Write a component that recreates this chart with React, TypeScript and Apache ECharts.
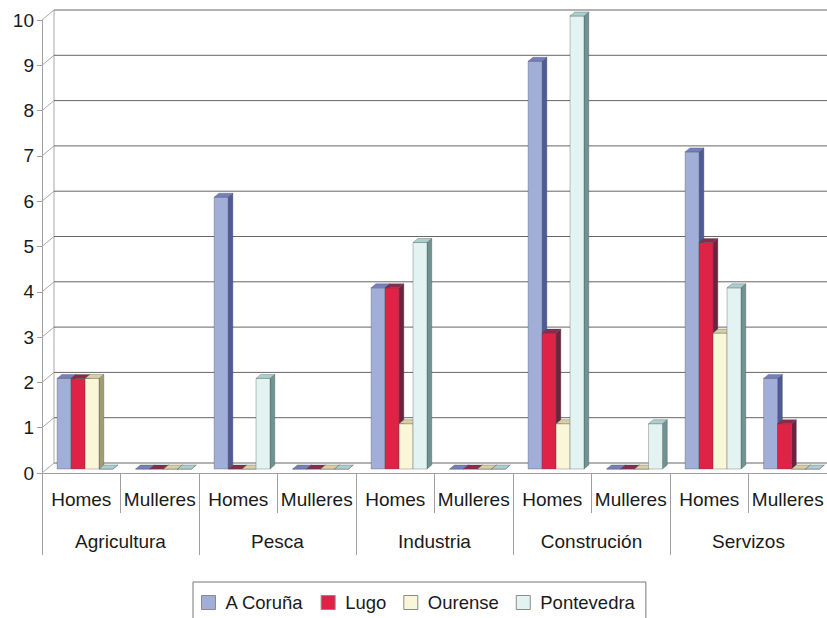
import React, { useEffect, useRef } from 'react';
import * as echarts from 'echarts';

const sectors = ['Agricultura', 'Pesca', 'Industria', 'Construción', 'Servizos'];
const genders = ['Homes', 'Mulleres'];
const subCategories = sectors.flatMap(() => genders);
const yTicks = [0, 1, 2, 3, 4, 5, 6, 7, 8, 9, 10];

const seriesNames = ['A Coruña', 'Lugo', 'Ourense', 'Pontevedra'];
const aCoruna = [2, 0, 6, 0, 4, 0, 9, 0, 7, 2];
const lugo = [2, 0, 0, 0, 4, 0, 3, 0, 5, 1];
const ourense = [2, 0, 0, 0, 1, 0, 1, 0, 3, 0];
const pontevedra = [0, 0, 2, 0, 5, 0, 10, 1, 4, 0];
const seriesValues = [aCoruna, lugo, ourense, pontevedra];

const frontColors = ['#a0aed8', '#df2347', '#faf6d8', '#e2f3f2'];
const sideColors = ['#4f5a98', '#6b2340', '#a39b72', '#6e9392'];
const topColors = ['#7280c0', '#8a2a4e', '#d8cfa2', '#aacfce'];

const DX = 12;
const DY = 10;
const FONT = "'Liberation Sans', Arial, sans-serif";

export default function App() {
  const ref = useRef<HTMLDivElement>(null);

  useEffect(() => {
    if (!ref.current) return;
    const chart = echarts.init(ref.current, null, { renderer: 'svg' });

    const frameRender = (params: any, api: any) => {
      const cs = params.coordSys;
      const v = api.value(1);
      const y = api.coord([0, v])[1];
      const x0 = cs.x;
      const x1 = cs.x + cs.width;
      const children: any[] = [
        {
          type: 'line',
          shape: { x1: x0, y1: y, x2: x0 + DX, y2: y - DY },
          style: { stroke: '#a8a8a8', lineWidth: 1 },
        },
        {
          type: 'line',
          shape: { x1: x0 + DX, y1: y - DY, x2: x1, y2: y - DY },
          style: { stroke: '#666666', lineWidth: 1 },
        },
      ];
      if (v === 0) {
        const yTop = api.coord([0, yTicks[yTicks.length - 1]])[1];
        children.push({
          type: 'line',
          shape: { x1: x0 + DX, y1: y - DY, x2: x0 + DX, y2: yTop - DY },
          style: { stroke: '#a8a8a8', lineWidth: 1 },
        });
      }
      return { type: 'group', children };
    };

    const makeBarRender = (s: number) => (params: any, api: any) => {
      const c = api.value(0);
      const v = api.value(1);
      const base = api.coord([c, 0]);
      const topP = api.coord([c, v]);
      const band = api.size([1, 0])[0];
      const bw = band * 0.178;
      const fx = DX * 0.4;
      const fy = DY * 0.4;
      const sx = DX * 0.4;
      const sy = DY * 0.4;
      const left = base[0] + fx - 2 * bw + s * bw - 1;
      const yb = base[1] - fy;
      const yt = topP[1] - fy;
      const stroke = 'rgba(70,70,70,0.55)';
      return {
        type: 'group',
        children: [
          {
            type: 'polygon',
            shape: {
              points: [
                [left + bw, yt],
                [left + bw + sx, yt - sy],
                [left + bw + sx, yb - sy],
                [left + bw, yb],
              ],
            },
            style: { fill: sideColors[s], stroke, lineWidth: 0.6 },
          },
          {
            type: 'rect',
            shape: { x: left, y: yt, width: bw, height: yb - yt },
            style: { fill: frontColors[s], stroke, lineWidth: 0.6 },
          },
          {
            type: 'polygon',
            shape: {
              points: [
                [left, yt],
                [left + bw, yt],
                [left + bw + sx, yt - sy],
                [left + sx, yt - sy],
              ],
            },
            style: { fill: topColors[s], stroke, lineWidth: 0.6 },
          },
        ],
      };
    };

    const option: any = {
      animation: false,
      backgroundColor: '#ffffff',
      textStyle: { fontFamily: FONT },
      grid: { left: 42, top: 20, width: 785, height: 453 },
      legend: {
        data: seriesNames.map((n) => ({ name: n, icon: 'rect' })),
        left: 193,
        top: 582,
        orient: 'horizontal',
        itemWidth: 14,
        itemHeight: 14,
        itemGap: 17,
        padding: [11, 11, 12, 8],
        borderColor: '#777777',
        borderWidth: 1,
        borderRadius: 0,
        itemStyle: { borderColor: '#8a8a8a', borderWidth: 1 },
        textStyle: {
          fontSize: 18.5,
          color: '#1a1a1a',
          fontFamily: FONT,
          padding: [0, 0, 0, 5],
        },
        selectedMode: false,
      },
      xAxis: [
        {
          type: 'category',
          data: subCategories,
          position: 'bottom',
          boundaryGap: true,
          axisLine: { show: true, lineStyle: { color: '#a0a0a0', width: 1 } },
          axisTick: { show: true, interval: 0, length: 40, lineStyle: { color: '#a0a0a0' } },
          axisLabel: { interval: 0, fontSize: 19, color: '#1a1a1a', margin: 17, fontFamily: FONT },
          splitLine: { show: false },
        },
        {
          type: 'category',
          data: sectors,
          position: 'bottom',
          boundaryGap: true,
          axisLine: { show: false },
          axisTick: { show: true, interval: 0, length: 82, lineStyle: { color: '#a0a0a0' } },
          axisLabel: { interval: 0, fontSize: 19, color: '#1a1a1a', margin: 59, fontFamily: FONT },
          splitLine: { show: false },
        },
      ],
      yAxis: {
        type: 'value',
        min: 0,
        max: 10,
        interval: 1,
        axisLine: { show: true, lineStyle: { color: '#a0a0a0', width: 1 } },
        axisTick: { show: true, length: 5, lineStyle: { color: '#a0a0a0' } },
        axisLabel: { fontSize: 19, color: '#1a1a1a', margin: 8, fontFamily: FONT },
        splitLine: { show: false },
      },
      series: [
        {
          type: 'custom',
          name: 'frame',
          silent: true,
          clip: false,
          z: 1,
          xAxisIndex: 0,
          yAxisIndex: 0,
          renderItem: frameRender,
          data: yTicks.map((v) => [0, v]),
          encode: { x: 0, y: 1 },
        },
        ...seriesNames.map((name, s) => ({
          type: 'custom',
          name,
          clip: false,
          z: 2,
          xAxisIndex: 0,
          yAxisIndex: 0,
          itemStyle: { color: frontColors[s] },
          renderItem: makeBarRender(s),
          data: seriesValues[s].map((v, i) => [i, v]),
          encode: { x: 0, y: 1 },
        })),
      ],
    };

    chart.setOption(option);
    return () => chart.dispose();
  }, []);

  return (
    <div
      ref={ref}
      style={{ position: 'absolute', left: 0, top: 0, width: 827, height: 618 }}
    />
  );
}
